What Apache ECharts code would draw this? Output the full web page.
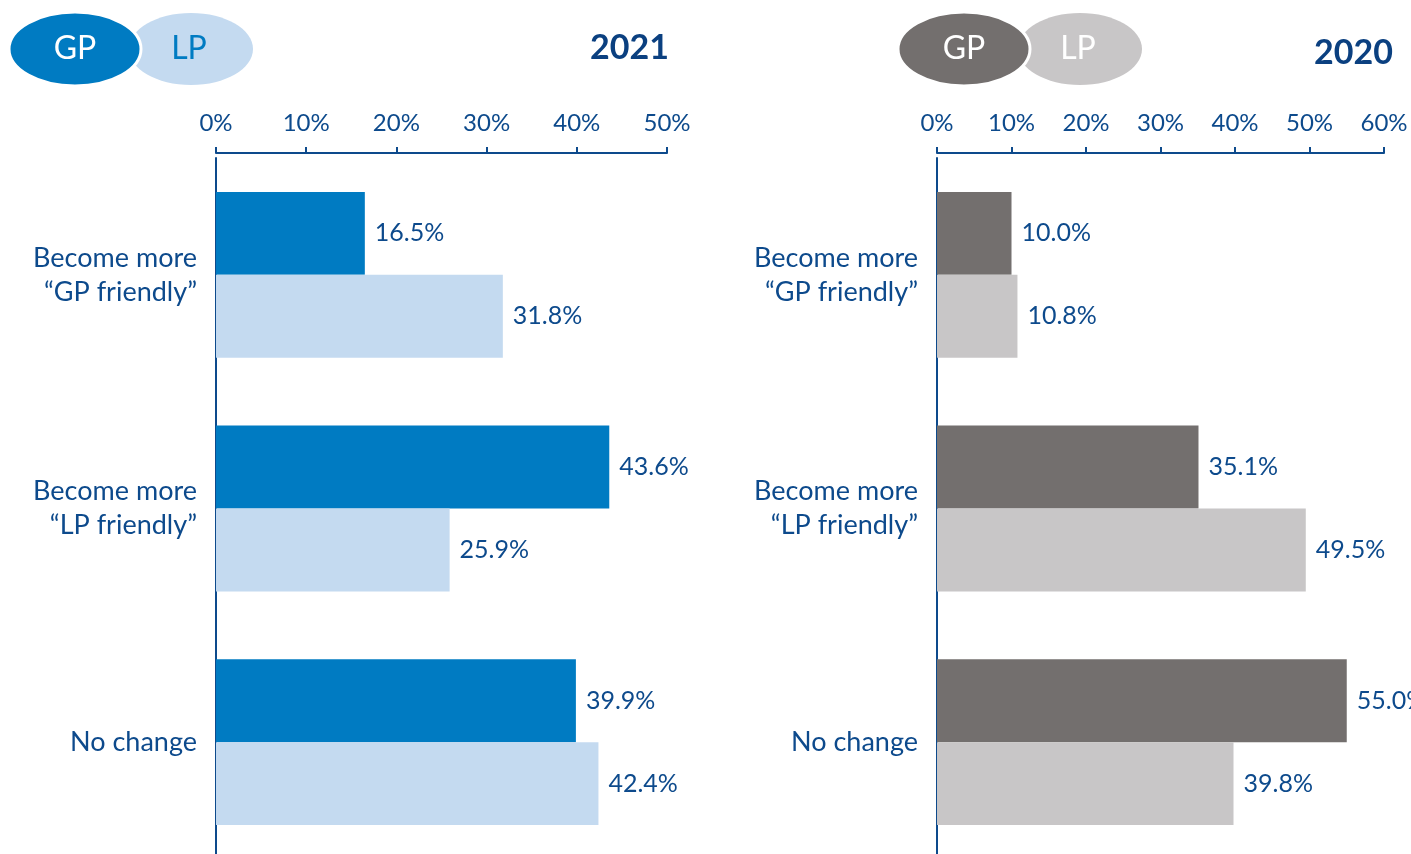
<!DOCTYPE html>
<html>
<head>
<meta charset="utf-8">
<script src="https://cdn.jsdelivr.net/npm/echarts@6/dist/echarts.min.js"></script>
<style>
  html, body { margin: 0; padding: 0; background: #fff; }
  #chart { width: 1411px; height: 854px; }
</style>
</head>
<body>
<div id="chart"></div>
<script>
var categories = ['Become more\n\u201cGP friendly\u201d', 'Become more\n\u201cLP friendly\u201d', 'No change'];
var gp2021 = [16.5, 43.6, 39.9];
var lp2021 = [31.8, 25.9, 42.4];
var gp2020 = [10.0, 35.1, 55.0];
var lp2020 = [10.8, 49.5, 39.8];

var navy = '#0d4a8c';
var font = 'Lato';

var chart = echarts.init(document.getElementById('chart'));

function xAxisFor(idx, max) {
    return {
        type: 'value', gridIndex: idx, position: 'top', offset: 5,
        min: 0, max: max, interval: 10,
        splitLine: { show: false },
        axisLine: { show: true, lineStyle: { color: navy, width: 2 } },
        axisTick: { show: true, length: 6, lineStyle: { color: navy, width: 2 } },
        axisLabel: { margin: 18, color: navy, fontSize: 24, fontFamily: font, formatter: '{value}%' }
    };
}

function yAxisFor(idx) {
    return {
        type: 'category', gridIndex: idx, inverse: true, data: categories,
        axisLine: { show: true, lineStyle: { color: navy, width: 2 } },
        axisTick: { show: false },
        axisLabel: { margin: 19, color: navy, fontSize: 27, lineHeight: 34, fontFamily: font, align: 'right' }
    };
}

function barSeries(name, data, color, idx) {
    return {
        name: name, type: 'bar', xAxisIndex: idx, yAxisIndex: idx,
        data: data, barGap: '0%', barCategoryGap: '29%',
        itemStyle: { color: color },
        label: {
            show: true, position: 'right', distance: 10,
            color: navy, fontSize: 25, fontFamily: font,
            formatter: function (p) { return p.value.toFixed(1) + '%'; }
        }
    };
}

function legendPair(cx1, cx2, c1, c2, t2color) {
    return [
        { type: 'ellipse', shape: { cx: cx2, cy: 49, rx: 62, ry: 36 }, style: { fill: c2 }, z: 10 },
        { type: 'ellipse', shape: { cx: cx1, cy: 49, rx: 66, ry: 37 }, style: { fill: c1, stroke: '#fff', lineWidth: 3 }, z: 11 },
        { type: 'text', x: cx1, y: 49, style: { text: 'GP', fill: '#fff', font: '32px ' + font, align: 'center', verticalAlign: 'middle' }, z: 12 },
        { type: 'text', x: cx2 - 2, y: 49, style: { text: 'LP', fill: t2color, font: '32px ' + font, align: 'center', verticalAlign: 'middle' }, z: 12 }
    ];
}

chart.setOption({
    animation: false,
    grid: [
        { left: 216, top: 158, width: 451, height: 701, outerBoundsMode: 'none' },
        { left: 937, top: 158, width: 447, height: 701, outerBoundsMode: 'none' }
    ],
    xAxis: [xAxisFor(0, 50), xAxisFor(1, 60)],
    yAxis: [yAxisFor(0), yAxisFor(1)],
    series: [
        barSeries('GP', gp2021, '#007bc2', 0),
        barSeries('LP', lp2021, '#c4daf0', 0),
        barSeries('GP', gp2020, '#736f6e', 1),
        barSeries('LP', lp2020, '#c8c6c7', 1)
    ],
    graphic: [].concat(
        legendPair(75, 191, '#007bc2', '#c4daf0', '#007bc2'),
        legendPair(964, 1080, '#736f6e', '#c8c6c7', '#fff'),
        [
            { type: 'text', x: 669, y: 48, style: { text: '2021', fill: '#0b4080', font: 'bold 34px ' + font, align: 'right', verticalAlign: 'middle' } },
            { type: 'text', x: 1393, y: 53, style: { text: '2020', fill: '#0b4080', font: 'bold 34px ' + font, align: 'right', verticalAlign: 'middle' } }
        ]
    )
});
</script>
</body>
</html>
